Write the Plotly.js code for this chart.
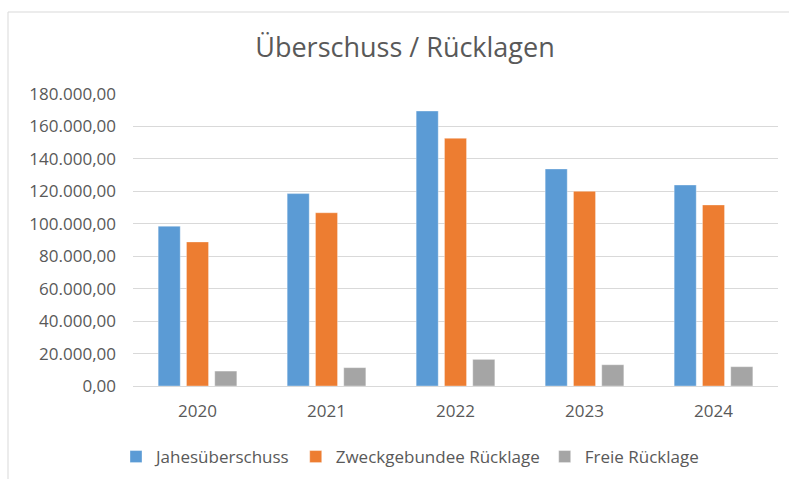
<!DOCTYPE html>
<html>
<head>
<meta charset="utf-8">
<script src="https://cdn.plot.ly/plotly-3.0.1.min.js"></script>
<style>html,body{margin:0;padding:0;background:#fff;overflow:hidden;}#chart{width:789px;height:479px;}</style>
</head>
<body>
<div id="chart"></div>
<script>
const years = ['2020', '2021', '2022', '2023', '2024'];
const jahresueberschuss = [98500, 118600, 169500, 133800, 123900];
const zweckgebunden = [88800, 106800, 152700, 120000, 111600];
const freie = [9200, 11300, 16400, 13100, 11900];
const seriesNames = ['Jahesüberschuss', 'Zweckgebundee Rücklage', 'Freie Rücklage'];
const colors = ['#5B9BD5', '#ED7D31', '#A5A5A5'];
const yTicks = [0, 20000, 40000, 60000, 80000, 100000, 120000, 140000, 160000, 180000];

const font = '"Open Sans", sans-serif';
const series = [jahresueberschuss, zweckgebunden, freie];
const traces = series.map((vals, i) => ({
  type: 'bar', x: years, y: vals, name: seriesNames[i],
  marker: {color: colors[i], line: {color: 'rgba(255,255,255,0.35)', width: 1}},
  hoverinfo: 'skip'
}));

const L = 133, R = 778, T = 94, B = 386;
const W = R - L, H = B - T;
const layout = {
  width: 789, height: 479,
  margin: {l: L, r: 789 - R, t: T, b: 479 - B, autoexpand: false},
  paper_bgcolor: '#fff', plot_bgcolor: '#fff',
  separators: ',.',
  font: {family: font, color: '#595959', size: 17},
  title: {text: 'Überschuss / Rücklagen', font: {family: font, size: 27, color: '#595959'},
          x: 405 / 789, xanchor: 'center', y: 1 - 48 / 479, yanchor: 'middle'},
  barmode: 'group', bargap: 0.342, bargroupgap: 0.22,
  xaxis: {type: 'category', showgrid: false, showline: false, ticks: '', zeroline: false,
          automargin: false,
          tickfont: {family: font, size: 17, color: '#595959'}, ticklabelstandoff: 13},
  yaxis: {range: [0, 180000], tickvals: yTicks, tickformat: ',.2f', showgrid: true,
          automargin: false,
          gridcolor: '#d9d9d9', gridwidth: 1, zeroline: true, zerolinecolor: '#d9d9d9', zerolinewidth: 1,
          showline: false, ticks: '', tickfont: {family: font, size: 17, color: '#595959'},
          ticklabelstandoff: 16},
  showlegend: true,
  legend: {orientation: 'h', xref: 'container', yref: 'container',
           x: 410 / 789, xanchor: 'center', y: 1 - 457 / 479, yanchor: 'middle',
           font: {family: font, size: 17, color: '#595959'}, itemwidth: 30, tracegroupgap: 0},
  shapes: [{type: 'rect', xref: 'paper', yref: 'paper',
            x0: (8 - L) / W, x1: (820 - L) / W, y0: (B - 520) / H, y1: (B - 12) / H,
            line: {color: '#d9d9d9', width: 1}, fillcolor: 'rgba(0,0,0,0)', layer: 'below'}]
};
Plotly.newPlot('chart', traces, layout, {displayModeBar: false, staticPlot: true});
</script>
</body>
</html>
